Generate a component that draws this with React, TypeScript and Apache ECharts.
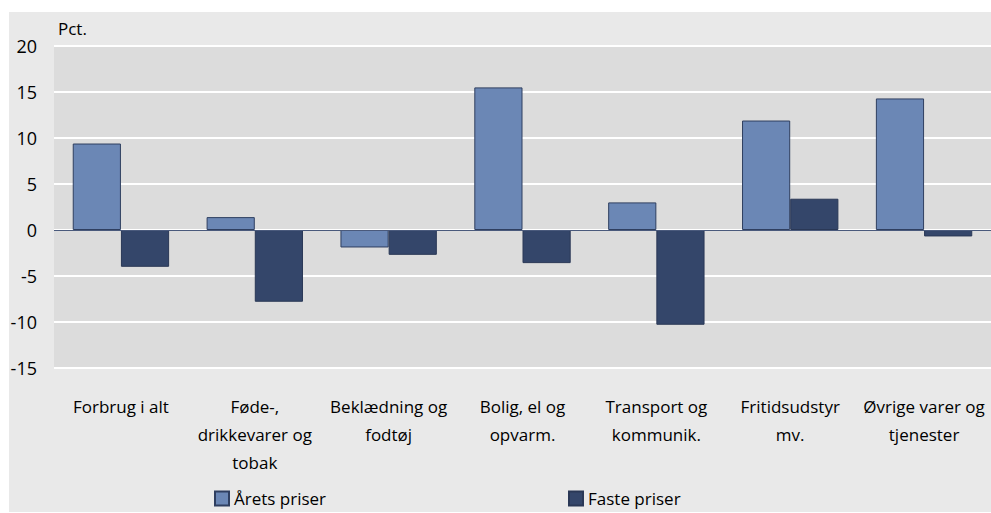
import React, { useEffect, useRef } from "react";
import * as echarts from "echarts";

const categories = [
  "Forbrug i alt",
  "Føde-,\ndrikkevarer og\ntobak",
  "Beklædning og\nfodtøj",
  "Bolig, el og\nopvarm.",
  "Transport og\nkommunik.",
  "Fritidsudstyr\nmv.",
  "Øvrige varer og\ntjenester",
];
const aretsPriser = [9.4, 1.4, -1.9, 15.5, 3.0, 11.9, 14.3];
const fastePriser = [-4.0, -7.8, -2.7, -3.6, -10.3, 3.4, -0.7];
const seriesNames = ["Årets priser", "Faste priser"];

const FONT = "Open Sans";

export default function App() {
  const ref = useRef<HTMLDivElement>(null);
  useEffect(() => {
    document.body.style.margin = "0";
    const chart = echarts.init(ref.current!, null, { renderer: "svg" });
    chart.setOption({
      animation: false,
      textStyle: { fontFamily: FONT, color: "#000" },
      graphic: [
        {
          type: "rect",
          z: -10,
          shape: { x: 9, y: 12, width: 982, height: 500 },
          style: { fill: "#e9e9e9" },
          silent: true,
        },
        {
          type: "text",
          left: 58,
          top: 20,
          style: { text: "Pct.", font: `17px "${FONT}"`, fill: "#000" },
        },
      ],
      grid: {
        left: 54,
        right: 0,
        top: 46,
        bottom: 145,
        show: true,
        backgroundColor: "#dcdcdc",
        borderWidth: 0,
      },
      legend: [
        {
          data: [seriesNames[0]],
          left: 209,
          top: 485,
          icon: "rect",
          itemWidth: 14,
          itemHeight: 14,
          itemGap: 0,
          textStyle: { fontFamily: FONT, fontSize: 17, color: "#000" },
        },
        {
          data: [seriesNames[1]],
          left: 563,
          top: 485,
          icon: "rect",
          itemWidth: 14,
          itemHeight: 14,
          textStyle: { fontFamily: FONT, fontSize: 17, color: "#000" },
        },
      ],
      xAxis: {
        type: "category",
        data: categories,
        axisLine: { show: false, onZero: false },
        axisTick: { show: false },
        axisLabel: {
          interval: 0,
          margin: 24,
          fontFamily: FONT,
          fontSize: 17,
          lineHeight: 28,
          color: "#000",
        },
      },
      yAxis: {
        type: "value",
        min: -15,
        max: 20,
        interval: 5,
        axisLine: { show: false },
        axisTick: { show: false },
        axisLabel: { fontFamily: FONT, fontSize: 18, color: "#000", margin: 17 },
        splitLine: { lineStyle: { color: "#ffffff", width: 2 } },
      },
      series: [
        {
          name: seriesNames[0],
          type: "bar",
          data: aretsPriser,
          barGap: "0%",
          barCategoryGap: "28%",
          itemStyle: { color: "#6b87b5", borderColor: "#2f3f60", borderWidth: 1 },
          markLine: {
            silent: true,
            symbol: "none",
            label: { show: false },
            lineStyle: { color: "#4a5a7c", width: 1, type: "solid" },
            data: [{ yAxis: 0 }],
          },
        },
        {
          name: seriesNames[1],
          type: "bar",
          data: fastePriser,
          itemStyle: { color: "#34466a", borderColor: "#2a3856", borderWidth: 1 },
        },
      ],
    });
    return () => chart.dispose();
  }, []);
  return <div ref={ref} style={{ width: 991, height: 513 }} />;
}
